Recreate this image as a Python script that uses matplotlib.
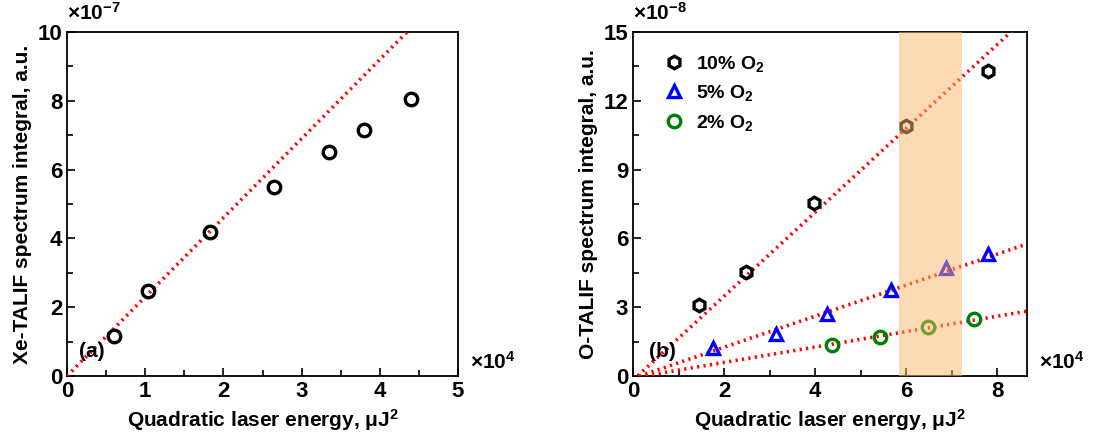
import numpy as np
import matplotlib
matplotlib.use("Agg")
from matplotlib import pyplot as plt
from matplotlib.ticker import MultipleLocator

plt.rcParams["font.family"] = ["Liberation Sans", "DejaVu Sans"]
plt.rcParams["font.weight"] = "bold"
plt.rcParams["mathtext.fontset"] = "custom"
plt.rcParams["mathtext.rm"] = "Liberation Sans:bold"
plt.rcParams["mathtext.it"] = "Liberation Sans:bold"
plt.rcParams["mathtext.bf"] = "Liberation Sans:bold"

# panel (a): Xe, x in 1e4 uJ^2, y in 1e-7 a.u.
xe_x = [0.60, 1.04, 1.83, 2.65, 3.35, 3.80, 4.40]
xe_y = [1.17, 2.48, 4.20, 5.50, 6.50, 7.15, 8.05]
xe_fit = (2.30, 0.0)  # slope, intercept

# panel (b): O, x in 1e4 uJ^2, y in 1e-8 a.u.
o10_x = [1.45, 2.47, 3.98, 6.00, 7.80]
o10_y = [3.10, 4.55, 7.55, 10.90, 13.30]
o5_x = [1.75, 3.15, 4.25, 5.67, 6.87, 7.80]
o5_y = [1.20, 1.85, 2.70, 3.75, 4.70, 5.30]
o2_x = [4.37, 5.42, 6.47, 7.48]
o2_y = [1.35, 1.72, 2.12, 2.47]
o10_fit = (1.83, -0.18)
o5_fit = (0.677, -0.10)
o2_fit = (0.336, -0.08)
band = (5.83, 7.22)

fig = plt.figure(figsize=(11.2, 4.37), dpi=100)
ax1 = fig.add_axes([67 / 1120, 1 - 376 / 437, 391 / 1120, 344 / 437])
ax2 = fig.add_axes([633 / 1120, 1 - 376 / 437, 394 / 1120, 344 / 437])

mk = dict(linestyle="none", markerfacecolor="none", markersize=9, markeredgewidth=2.4)
fit_kw = dict(color="red", linestyle=(0, (0.6, 1.2)), linewidth=2.6, zorder=3)


def style(ax):
    ax.tick_params(which="both", direction="in", labelsize=16, top=False, right=False)
    ax.tick_params(which="major", length=6, width=1.2)
    ax.tick_params(which="minor", length=4, width=1.2)
    for s in ax.spines.values():
        s.set_linewidth(1.3)


# (a)
ax1.plot(xe_x, xe_y, marker="o", color="black", **mk, zorder=4)
xx = np.linspace(0, 5, 200)
ax1.plot(xx, xe_fit[0] * xx + xe_fit[1], **fit_kw)
ax1.set_xlim(0, 5)
ax1.set_ylim(0, 10)
ax1.xaxis.set_major_locator(MultipleLocator(1))
ax1.xaxis.set_minor_locator(MultipleLocator(0.5))
ax1.yaxis.set_major_locator(MultipleLocator(2))
ax1.yaxis.set_minor_locator(MultipleLocator(1))
style(ax1)
ax1.set_xlabel(r"Quadratic laser energy, μJ$^{2}$", fontsize=15, fontweight="bold")
ax1.set_ylabel("Xe-TALIF spectrum integral, a.u.", fontsize=15, fontweight="bold")
ax1.text(0.15, 0.72, "(a)", fontsize=15, fontweight="bold", va="center")
ax1.text(0.0, 1.035, r"×10$^{-7}$", transform=ax1.transAxes, fontsize=15, va="baseline")
ax1.text(1.03, 0.04, r"×10$^{4}$", transform=ax1.transAxes, fontsize=15, va="center")

# (b)
xx = np.linspace(0, 8.65, 200)
ax2.axvspan(band[0], band[1], color="#FBB668", alpha=0.5, linewidth=0, zorder=5)
ax2.plot(o10_x, o10_y, marker="h", color="black", label=r"10% O$_2$", **mk, zorder=4)
ax2.plot(o5_x, o5_y, marker="^", color="blue", label=r"5% O$_2$", **mk, zorder=4)
ax2.plot(o2_x, o2_y, marker="o", color="green", label=r"2% O$_2$", **mk, zorder=4)
for sl, ic in (o10_fit, o5_fit, o2_fit):
    ax2.plot(xx, sl * xx + ic, **fit_kw)
ax2.set_xlim(0, 8.65)
ax2.set_ylim(0, 15)
ax2.xaxis.set_major_locator(MultipleLocator(2))
ax2.xaxis.set_minor_locator(MultipleLocator(1))
ax2.yaxis.set_major_locator(MultipleLocator(3))
ax2.yaxis.set_minor_locator(MultipleLocator(1.5))
style(ax2)
ax2.set_xlabel(r"Quadratic laser energy, μJ$^{2}$", fontsize=15, fontweight="bold")
ax2.set_ylabel("O-TALIF spectrum integral, a.u.", fontsize=15, fontweight="bold")
ax2.text(0.35, 1.05, "(b)", fontsize=15, fontweight="bold", va="center")
ax2.text(0.0, 1.035, r"×10$^{-8}$", transform=ax2.transAxes, fontsize=15, va="baseline")
ax2.text(1.03, 0.04, r"×10$^{4}$", transform=ax2.transAxes, fontsize=15, va="center")
ax2.legend(loc="upper left", bbox_to_anchor=(0.055, 0.96), frameon=False, fontsize=14,
           handletextpad=0.5, borderaxespad=0.0, labelspacing=0.5, handlelength=1.2)

fig.savefig("out.png", dpi=100)
